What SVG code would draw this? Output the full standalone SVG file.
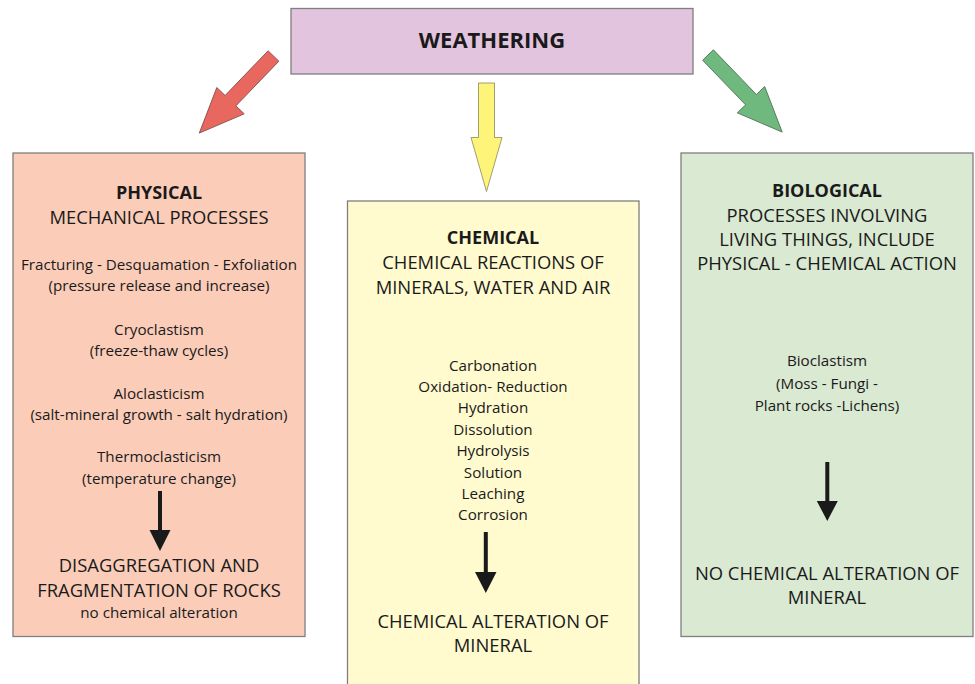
<svg xmlns="http://www.w3.org/2000/svg" width="975" height="684" viewBox="0 0 975 684">
<style>
text{font-family:"Open Sans","Liberation Sans",sans-serif;fill:#1a1a1a;text-anchor:middle}
.b{font-weight:bold;font-size:18px}
.big{font-size:18.4px}
.sm{font-size:15.2px}
.box{stroke:#7f7f7f;stroke-width:1.3}
.blk{fill:#1a1a1a}
</style>
<rect width="975" height="684" fill="#ffffff"/>
<g id="weathering">
<rect class="box" x="291" y="8.5" width="402" height="65.5" fill="#e3c4de"/>
<text x="492" y="48" font-size="22" font-weight="bold">WEATHERING</text>
</g>
<g id="connectors">
<g transform="translate(273.5,56) rotate(133.9)">
<polygon points="0,-7.5 62,-7.5 62,-19 107,0 62,19 62,7.5 0,7.5" fill="#e8685f" stroke="#7a4a44" stroke-width="0.8"/>
</g>
<polygon points="478.5,83 494.5,83 494.5,137.5 502,137.5 486.5,191.5 471,137.5 478.5,137.5" fill="#fff47a" stroke="#8a8660" stroke-width="0.8"/>
<g transform="translate(708,55) rotate(46.1)">
<polygon points="0,-7.5 62,-7.5 62,-19 107,0 62,19 62,7.5 0,7.5" fill="#6fb97e" stroke="#4d6b52" stroke-width="0.8"/>
</g>
</g>
<g id="physical">
<rect class="box" x="13" y="153" width="292" height="483.5" fill="#fbcdb9"/>
<text class="b" x="159" y="199">PHYSICAL</text>
<text class="big" x="159" y="224">MECHANICAL PROCESSES</text>
<text class="sm" x="159" y="270">Fracturing - Desquamation - Exfoliation</text>
<text class="sm" x="159" y="291">(pressure release and increase)</text>
<text class="sm" x="159" y="335">Cryoclastism</text>
<text class="sm" x="159" y="356">(freeze-thaw cycles)</text>
<text class="sm" x="159" y="399">Aloclasticism</text>
<text class="sm" x="159" y="420">(salt-mineral growth - salt hydration)</text>
<text class="sm" x="159" y="462">Thermoclasticism</text>
<text class="sm" x="159" y="484">(temperature change)</text>
<polygon class="blk" points="158,491 162,491 162,530 170.5,530 160,551 149.5,530 158,530"/>
<text class="big" x="159" y="572">DISAGGREGATION AND</text>
<text class="big" x="159" y="597">FRAGMENTATION OF ROCKS</text>
<text class="sm" x="159" y="618">no chemical alteration</text>
</g>
<g id="chemical">
<rect class="box" x="347.5" y="201" width="291.5" height="490" fill="#fffbcf"/>
<text class="b" x="493" y="244">CHEMICAL</text>
<text class="big" x="493" y="269">CHEMICAL REACTIONS OF</text>
<text class="big" x="493" y="294">MINERALS, WATER AND AIR</text>
<text class="sm" x="493" y="371">Carbonation</text>
<text class="sm" x="493" y="392">Oxidation- Reduction</text>
<text class="sm" x="493" y="413">Hydration</text>
<text class="sm" x="493" y="435">Dissolution</text>
<text class="sm" x="493" y="456">Hydrolysis</text>
<text class="sm" x="493" y="478">Solution</text>
<text class="sm" x="493" y="499">Leaching</text>
<text class="sm" x="493" y="520">Corrosion</text>
<polygon class="blk" points="483.8,532 487.8,532 487.8,572 496.5,572 485.8,593 475,572 483.8,572"/>
<text class="big" x="493" y="628">CHEMICAL ALTERATION OF</text>
<text class="big" x="493" y="652">MINERAL</text>
</g>
<g id="biological">
<rect class="box" x="681" y="153" width="292" height="483.5" fill="#d9e9d2"/>
<text class="b" x="827" y="197">BIOLOGICAL</text>
<text class="big" x="827" y="222">PROCESSES INVOLVING</text>
<text class="big" x="827" y="246">LIVING THINGS, INCLUDE</text>
<text class="big" x="827" y="270">PHYSICAL - CHEMICAL ACTION</text>
<text class="sm" x="827" y="366">Bioclastism</text>
<text class="sm" x="827" y="389">(Moss - Fungi -</text>
<text class="sm" x="827" y="411">Plant rocks -Lichens)</text>
<polygon class="blk" points="825.3,462 829.3,462 829.3,501 837.8,501 827.3,521 816.8,501 825.3,501"/>
<text class="big" x="827" y="580">NO CHEMICAL ALTERATION OF</text>
<text class="big" x="827" y="604">MINERAL</text>
</g>
</svg>
